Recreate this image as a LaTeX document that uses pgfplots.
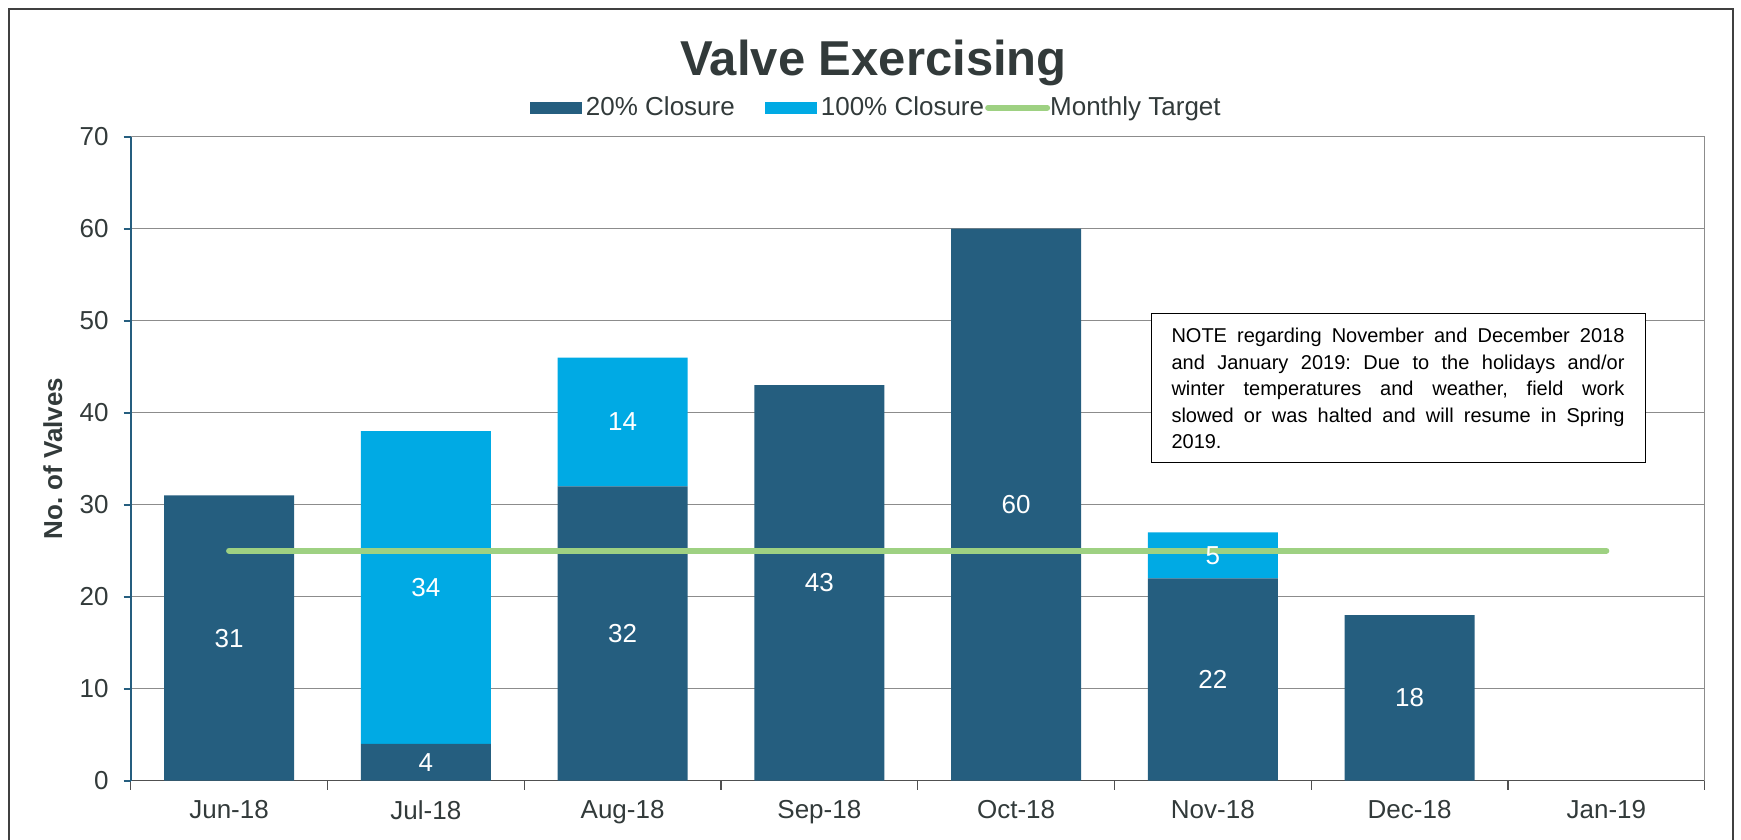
\documentclass[border=0pt]{standalone}
\usepackage{fontspec}
\setmainfont{Liberation Sans}
\usepackage{pgfplots}
\usepackage{pgfplotstable}
\pgfplotsset{compat=1.18}
\definecolor{darkbar}{RGB}{37,94,127}
\definecolor{lightbar}{RGB}{0,170,228}
\definecolor{target}{RGB}{158,209,130}
\definecolor{txt}{RGB}{50,58,58}
\definecolor{gridc}{RGB}{140,140,140}
\definecolor{axisgray}{RGB}{80,80,80}
\definecolor{framec}{RGB}{64,64,64}

\pgfplotstableread{
x a b
0 31 0
1 4 34
2 32 14
3 43 0
4 60 0
5 22 5
6 18 0
7 0 0
}\valvedata

\pgfplotstableread{
x y lbl
0 15.5 31
1 2 4
1 21 34
2 16 32
2 39 14
3 21.5 43
4 30 60
5 11 22
5 24.5 5
6 9 18
}\labeldata

\begin{document}
\frenchspacing
\begin{tikzpicture}
\useasboundingbox (0,0) rectangle (870.5pt,420pt);
\draw[framec, line width=1.2pt] (4.4pt,-5pt) rectangle (866.5pt,415.5pt);
\node[anchor=base, text=txt, font=\bfseries\fontsize{24.5}{29}\selectfont] at (436.7pt,382.25pt) {Valve Exercising};

\begin{axis}[
  at={(65.35pt,29.65pt)}, anchor=south west,
  scale only axis, width=787pt, height=322pt,
  xmin=-0.5, xmax=7.5, ymin=0, ymax=70,
  ybar stacked, bar width=0.66,
  axis x line*=bottom, axis y line*=left,
  x axis line style={draw=axisgray, line width=0.8pt},
  y axis line style={draw=darkbar, line width=0.9pt},
  xtick={0,...,7},
  xticklabels={Jun-18,Jul-18,Aug-18,Sep-18,Oct-18,Nov-18,Dec-18,Jan-19},
  minor xtick={-0.5,0.5,...,7.5},
  ytick={0,10,...,70},
  tick align=outside,
  major tick length=3.5pt, minor tick length=4.5pt,
  major x tick style={draw=none},
  minor x tick style={draw=axisgray, line width=0.6pt},
  major y tick style={draw=darkbar, line width=0.9pt},
  ymajorgrids, major grid style={draw=gridc, line width=0.75pt},
  tick label style={font=\fontsize{13}{15}\selectfont, text=txt},
  yticklabel style={xshift=-4pt},
  xticklabel style={yshift=-3pt},
  /pgf/number format/assume math mode=true,
  ylabel={No. of Valves},
  every axis y label/.style={at={(axis description cs:-0.0494,0.5)}, rotate=90, anchor=center, font=\bfseries\fontsize{13}{15}\selectfont, text=txt},
  legend columns=3,
  legend style={at={(axis description cs:0.468,1.045)}, anchor=center, draw=none, fill=none,
    font=\fontsize{13}{15}\selectfont, text=txt,
    /tikz/every even column/.append style={column sep=3pt}},
  legend cell align=left,
]
\addplot[fill=darkbar, draw=none,
  legend image code/.code={\path[draw=none,fill=none] (-10pt,0pt); \fill[darkbar] (0pt,-3pt) rectangle (26pt,3pt);}]
  table[x=x,y=a]{\valvedata};
\addlegendentry{20\% Closure}
\addplot[fill=lightbar, draw=none,
  legend image code/.code={\path[draw=none,fill=none] (-10pt,0pt); \fill[lightbar] (0pt,-3pt) rectangle (26pt,3pt);}]
  table[x=x,y=b]{\valvedata};
\addlegendentry{100\% Closure}
\addlegendimage{legend image code/.code={\path[draw=none,fill=none] (0pt,-3pt) rectangle (26pt,3pt); \draw[overlay, target, line width=3pt, line cap=round] (-3pt,0pt) -- (26.5pt,0pt);}}
\addlegendentry{Monthly Target}
\end{axis}

\begin{axis}[
  at={(65.35pt,29.65pt)}, anchor=south west,
  scale only axis, width=787pt, height=322pt,
  xmin=-0.5, xmax=7.5, ymin=0, ymax=70,
  hide axis, clip=false]
\addplot[target, line width=3pt, line cap=round] coordinates {(0,25) (7,25)};
\addplot[only marks, mark=none, nodes near coords, point meta=explicit symbolic,
  every node near coord/.append style={anchor=center, text=white, font=\fontsize{13}{15}\selectfont}]
  table[x=x,y=y,meta=lbl]{\labeldata};
\draw[gridc, line width=0.75pt] (axis cs:7.5,0) -- (axis cs:7.5,70);
\end{axis}

\node[draw=black, line width=0.5pt, fill=white, text width=226.5pt, inner xsep=10.25pt,
  minimum height=74.5pt, align=justify, font=\fontsize{10}{13.3}\selectfont]
  at (699pt,225.75pt)
  {NOTE regarding November and December 2018\linebreak and January 2019: Due to the holidays and/or\linebreak winter temperatures and weather, field work\linebreak slowed or was halted and will resume in Spring\linebreak 2019.};
\end{tikzpicture}
\end{document}
